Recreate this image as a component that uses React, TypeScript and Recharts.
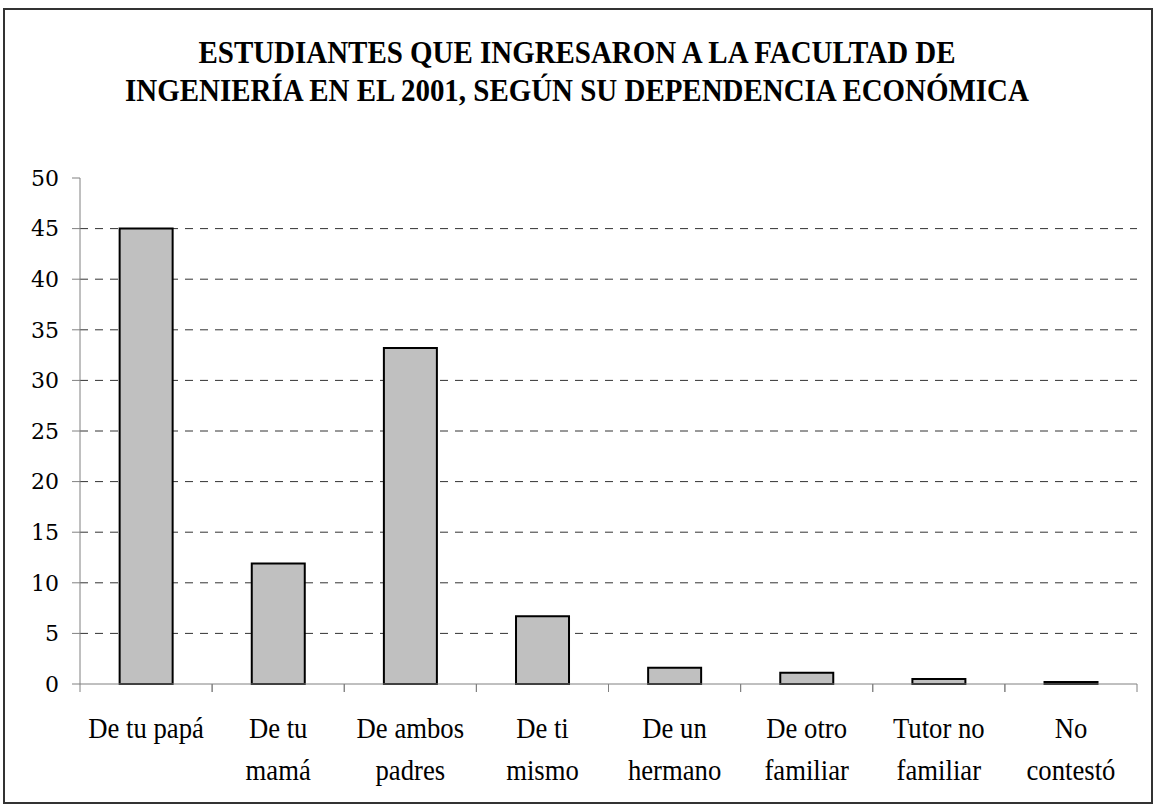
import React from "react";
import { BarChart, Bar, XAxis, YAxis, CartesianGrid } from "recharts";

const categories = [
  "De tu papá",
  "De tu\nmamá",
  "De ambos\npadres",
  "De ti\nmismo",
  "De un\nhermano",
  "De otro\nfamiliar",
  "Tutor no\nfamiliar",
  "No\ncontestó",
];
const values = [45, 11.9, 33.2, 6.7, 1.6, 1.1, 0.5, 0.2];
const yTicks = [0, 5, 10, 15, 20, 25, 30, 35, 40, 45, 50];
const gridValues = [5, 10, 15, 20, 25, 30, 35, 40, 45];
const titleLines = [
  "ESTUDIANTES QUE INGRESARON A LA FACULTAD DE",
  "INGENIERÍA EN EL 2001, SEGÚN SU DEPENDENCIA ECONÓMICA",
];

const FONT = "'Liberation Serif', 'Times New Roman', serif";
const AXIS = "#808080";

const data = categories.map((c, i) => ({ name: c, value: values[i] }));

// label lines plus the tick marks on the category boundaries
const CategoryTick = ({ x, y, payload, width, visibleTicksCount }: any) => {
  const lines = String(payload.value).split("\n");
  const half = width / visibleTicksCount / 2;
  return (
    <g>
      <line x1={x - half} x2={x - half} y1={y} y2={y + 8} stroke={AXIS} />
      <line x1={x + half} x2={x + half} y1={y} y2={y + 8} stroke={AXIS} />
      <g transform={`translate(${x},${y + 54}) scale(0.92,1)`}>
        <text x={0} y={0} textAnchor="middle" fontFamily={FONT} fontSize={29} fill="#000">
          {lines.map((l, i) => (
            <tspan key={i} x={0} dy={i === 0 ? 0 : 42}>
              {l}
            </tspan>
          ))}
        </text>
      </g>
    </g>
  );
};

export default function App() {
  return (
    <div style={{ position: "absolute", left: 0, top: 0, width: 1154, height: 805, background: "#fff" }}>
      <div
        style={{
          position: "absolute",
          left: 3,
          top: 8,
          width: 1150,
          height: 796,
          border: "2px solid #333",
          boxSizing: "border-box",
        }}
      />
      <svg width={1154} height={120} style={{ position: "absolute", left: 0, top: 0 }}>
        {titleLines.map((t, i) => (
          <g key={i} transform={`translate(577,${63 + i * 38}) scale(0.905,1)`}>
            <text x={0} y={0} textAnchor="middle" fontFamily={FONT} fontWeight="bold" fontSize={32} fill="#000">
              {t}
            </text>
          </g>
        ))}
      </svg>
      <div style={{ position: "absolute", left: 0, top: 0 }}>
        <BarChart
          width={1154}
          height={805}
          data={data}
          margin={{ top: 178, right: 17, left: 0, bottom: 0 }}
          barCategoryGap="30%"
        >
          <CartesianGrid
            vertical={false}
            horizontalValues={gridValues}
            stroke="#333"
            strokeDasharray="8 7"
          />
          <XAxis
            dataKey="name"
            interval={0}
            axisLine={{ stroke: AXIS }}
            tickLine={false}
            tickSize={0}
            tickMargin={0}
            height={121}
            tick={<CategoryTick />}
          />
          <YAxis
            domain={[0, 50]}
            ticks={yTicks}
            interval={0}
            width={80}
            tickSize={8}
            tickMargin={13}
            stroke={AXIS}
            tick={{ fill: "#000", fontFamily: "'DejaVu Serif', serif", fontSize: 22 }}
          />
          <Bar dataKey="value" fill="#c0c0c0" stroke="#000" strokeWidth={2} isAnimationActive={false} />
        </BarChart>
      </div>
    </div>
  );
}
